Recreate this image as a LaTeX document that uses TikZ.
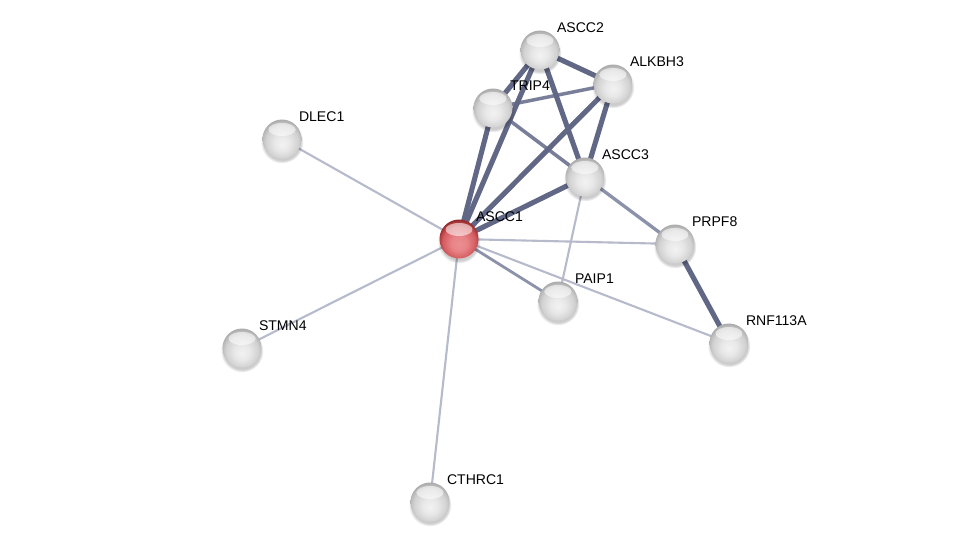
\documentclass[tikz,border=0pt]{standalone}
\usepackage{fontspec}
\setmainfont{Liberation Sans}
\usepackage{tikz}
\usetikzlibrary{backgrounds, shadows}
\definecolor{edgedark}{HTML}{616886}
\definecolor{edgemid}{HTML}{8c92aa}
\definecolor{edgelight}{HTML}{b6bacb}
\definecolor{redlight}{HTML}{EC8E91}
\definecolor{redmid}{HTML}{D45C60}
\definecolor{reddark}{HTML}{932628}
\pgfdeclareradialshading{glossgray}{\pgfpoint{0bp}{-7bp}}{color(0bp)=(gray!10); color(10bp)=(gray!18); color(21bp)=(gray!36); color(28bp)=(gray!66); color(50bp)=(gray!66)}
\pgfdeclareradialshading{glossred}{\pgfpoint{0bp}{-7bp}}{color(0bp)=(redlight); color(10bp)=(redlight!80!redmid); color(21bp)=(redmid); color(28bp)=(reddark); color(50bp)=(reddark)}

\begin{document}
\begin{tikzpicture}[
    x=0.02cm, y=-0.02cm,
    protein/.style={circle, minimum size=0.78cm, inner sep=0pt, shading=glossgray,
        circular drop shadow={shadow xshift=0pt, shadow yshift=-1.5pt, opacity=0.2, fill=black},
        path picture={\shade[top color=white, bottom color=white!60, opacity=0.55]
            ([yshift=0.19cm]path picture bounding box.center) ellipse (0.27cm and 0.13cm);}},
    query/.style={protein, shading=glossred},
    lbl/.style={font=\fontsize{8}{9}\selectfont, text=black, inner sep=1.5pt},
    strong/.style={draw=edgedark, line width=2.9pt},
    medium/.style={draw=edgedark!85!white, line width=2pt},
    soft/.style={draw=edgemid, line width=1.9pt},
    weak/.style={draw=edgelight, line width=1.2pt}
]
\useasboundingbox (0,0) rectangle (975,547);

% Nodes
\node[protein, label={[lbl]45:ASCC2}] (ascc2) at (540,50) {};
\node[protein, label={[lbl]45:ALKBH3}] (alkbh3) at (613,84) {};
\node[protein, label={[lbl]45:TRIP4}] (trip4) at (493,108) {};
\node[protein, label={[lbl]45:ASCC3}] (ascc3) at (585,177) {};
\node[protein, label={[lbl]45:DLEC1}] (dlec1) at (282,139) {};
\node[query, label={[lbl]45:ASCC1}] (ascc1) at (459,239) {};
\node[protein, label={[lbl]45:PRPF8}] (prpf8) at (675,244) {};
\node[protein, label={[lbl]45:PAIP1}] (paip1) at (558,301) {};
\node[protein, label={[lbl]45:RNF113A}] (rnf113a) at (729,343) {};
\node[protein, label={[lbl]45:STMN4}] (stmn4) at (242,348) {};
\node[protein, label={[lbl]45:CTHRC1}] (cthrc1) at (430,502) {};

% Edges
\begin{scope}[on background layer]
    \draw[weak] (ascc1.center) -- (dlec1.center);
    \draw[weak] (ascc1.center) -- (stmn4.center);
    \draw[weak] (ascc1.center) -- (cthrc1.center);
    \draw[weak] (ascc1.center) -- (prpf8.center);
    \draw[weak] (ascc1.center) -- (rnf113a.center);
    \draw[weak] (ascc3.center) -- (paip1.center);
    \draw[soft, line width=1.6pt] (ascc1.center) -- (paip1.center);
    \draw[soft] (ascc3.center) -- (prpf8.center);
    \draw[medium] (trip4.center) -- (alkbh3.center);
    \draw[medium] (trip4.center) -- (ascc3.center);
    \draw[strong] (ascc2.center) -- (trip4.center);
    \draw[strong] (ascc2.center) -- (alkbh3.center);
    \draw[strong] (ascc2.center) -- (ascc3.center);
    \draw[strong] (ascc2.center) -- (ascc1.center);
    \draw[strong] (trip4.center) -- (ascc1.center);
    \draw[strong] (alkbh3.center) -- (ascc3.center);
    \draw[strong] (alkbh3.center) -- (ascc1.center);
    \draw[strong] (ascc3.center) -- (ascc1.center);
    \draw[strong] (prpf8.center) -- (rnf113a.center);
\end{scope}

\end{tikzpicture}
\end{document}
